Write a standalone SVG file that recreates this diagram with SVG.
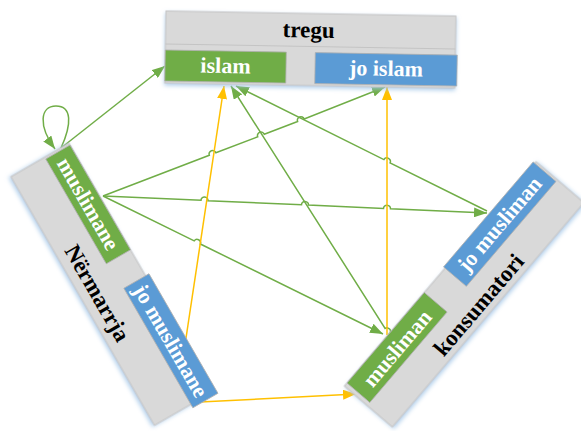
<svg xmlns="http://www.w3.org/2000/svg" width="581" height="431" viewBox="0 0 581 431">
<style>
.bg{fill:#d9d9d9;stroke:#c4c4c4;stroke-width:1;filter:url(#glow)}
.gr{fill:#70ad47;stroke:#b0b0b0;stroke-width:0.8}
.bl{fill:#5b9bd5;stroke:#b0b0b0;stroke-width:0.8}
.lw{font-family:"Liberation Serif","Times New Roman",serif;font-weight:bold;font-size:22px;fill:#ffffff;text-anchor:middle}
.lb{font-family:"Liberation Serif","Times New Roman",serif;font-weight:bold;font-size:23px;fill:#000000;text-anchor:middle}
.g{fill:none;stroke:#70ad47;stroke-width:1.5;marker-end:url(#ag)}
.g0{fill:none;stroke:#70ad47;stroke-width:1.5}
.y{fill:none;stroke:#ffc000;stroke-width:1.5;marker-end:url(#ay)}
</style>
<defs>
<filter id="glow" x="-10%" y="-20%" width="120%" height="150%">
<feDropShadow dx="0" dy="2" stdDeviation="2" flood-color="#9dc3e6" flood-opacity="0.8"/>
</filter>
<marker id="ag" markerUnits="userSpaceOnUse" markerWidth="13" markerHeight="10" refX="13" refY="5" orient="auto">
<path d="M0,0 L13,5 L0,10 z" fill="#70ad47"/>
</marker>
<marker id="ay" markerUnits="userSpaceOnUse" markerWidth="13" markerHeight="10" refX="13" refY="5" orient="auto">
<path d="M0,0 L13,5 L0,10 z" fill="#ffc000"/>
</marker>
</defs>
<g id="connectors">
<path class="g" d="M61,148 C72,124 72,106 56,106 C40,106 38,126 55,149"/>
<path class="g" d="M61,148 L165,66"/>
<path class="g" d="M103,196 L209.3,155.3 A3.5,3.5 0 0 1 215.9,152.8 L257.7,136.8 A3.5,3.5 0 0 1 264.3,134.3 L297.6,121.5 A3.5,3.5 0 0 1 304.2,119 L385,87"/>
<path class="g" d="M103,196 L201,200.3 A3.5,3.5 0 0 1 208,200.7 L301.5,204.8 A3.5,3.5 0 0 1 308.5,205.1 L383.5,208.5 A3.5,3.5 0 0 1 390.5,208.8 L487,213"/>
<path class="g" d="M103,196 L194.2,240.9 A3.5,3.5 0 0 1 200.4,244 L383,334"/>
<path class="g" d="M487,211 L390.1,162.8 A3.5,3.5 0 0 0 383.9,159.6 L236,86"/>
<path class="g" d="M390,336 L388.9,334.3 A3.5,3.5 0 0 0 385.1,328.4 L231,86"/>
<path class="y" d="M183,358 L224,86"/>
<path class="y" d="M200,402 L356,394"/>
<path class="y" d="M387,335 L387,87"/>
</g>
<g id="tregu" transform="rotate(1 166 11)">
<rect class="bg" x="166" y="11" width="290" height="72"/>
<line x1="166" y1="44" x2="456" y2="44" stroke="#c4c4c4" stroke-width="1"/>
<text class="lb" x="309" y="35">tregu</text>
<g id="islam">
<rect class="gr" x="166" y="50" width="121" height="31"/>
<text class="lw" x="226.5" y="72">islam</text>
</g>
<g id="jo-islam">
<rect class="bl" x="316" y="50" width="142" height="31"/>
<text class="lw" x="387" y="72">jo islam</text>
</g>
</g>
<g id="nermarrja" transform="translate(70,145) rotate(60)">
<rect class="bg" x="-2" y="0" width="287" height="67"/>
<text class="lb" x="142" y="58">Nërmarrja</text>
<g id="muslimane">
<rect class="gr" x="0" y="0" width="121" height="28"/>
<text class="lw" x="60" y="21">muslimane</text>
</g>
<g id="jo-muslimane">
<rect class="bl" x="151" y="-4" width="138" height="29"/>
<text class="lw" x="220" y="18">jo muslimane</text>
</g>
</g>
<g id="konsumatori" transform="translate(347,383) rotate(-49.5)">
<rect class="bg" x="-4" y="0" width="295" height="63"/>
<text class="lb" x="145" y="57">konsumatori</text>
<g id="musliman">
<rect class="gr" x="0" y="0" width="119" height="30"/>
<text class="lw" x="59" y="23">musliman</text>
</g>
<g id="jo-musliman">
<rect class="bl" x="151" y="-2" width="138" height="30"/>
<text class="lw" x="220" y="20">jo musliman</text>
</g>
</g>
</svg>
